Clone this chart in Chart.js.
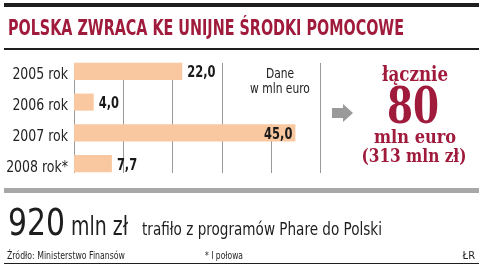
<!DOCTYPE html>
<html>
<head>
<meta charset="utf-8">
<script src="https://cdn.jsdelivr.net/npm/chart.js@4"></script>
<style>
  body { margin: 0; background: #fff; }
  canvas { display: block; }
</style>
</head>
<body>
<canvas id="phareChart" width="484" height="267"></canvas>
<script>
// dane w mln euro
var categories = ["2005 rok", "2006 rok", "2007 rok", "2008 rok*"];
var values = [22.0, 4.0, 45.0, 7.7];
var valueLabels = ["22,0", "4,0", "45,0", "7,7"];
var gridValues = [0, 10, 20, 30, 40, 50];

var RED = "#a01a3c";
var COND = "'DejaVu Sans Condensed', 'Liberation Sans Narrow', sans-serif";
var SLAB = "'DejaVu Serif Condensed', 'DejaVu Serif', serif";

// draws text squeezed horizontally (narrow newspaper font)
function txt(ctx, s, x, y, font, color, align, squeeze) {
    ctx.font = font;
    ctx.fillStyle = color;
    ctx.textAlign = align || "left";
    ctx.textBaseline = "alphabetic";
    var w = ctx.measureText(s).width;
    ctx.fillText(s, x, y, w * (squeeze || 1));
}

// grid lines + "Dane w mln euro" under the bars, category names
var gridPlugin = {
    id: "gridPlugin",
    beforeDatasetsDraw: function (chart) {
        var ctx = chart.ctx;
        var xs = chart.scales.x;
        var ys = chart.scales.y;
        ctx.save();
        ctx.strokeStyle = "#9a9a9a";
        ctx.lineWidth = 1;
        gridValues.forEach(function (v) {
            var px = Math.round(xs.getPixelForValue(v)) + 0.5;
            ctx.beginPath();
            ctx.moveTo(px, 63);
            ctx.lineTo(px, 173);
            ctx.stroke();
        });
        ctx.fillStyle = "#fff";
        ctx.fillRect(246, 58, 66, 66);
        txt(ctx, "Dane", 280, 78, "14px " + COND, "#222", "center", 0.85);
        txt(ctx, "w mln euro", 280, 93, "14px " + COND, "#222", "center", 0.85);

        categories.forEach(function (c, i) {
            var py = ys.getPixelForValue(i);
            txt(ctx, c, 68, py + 8, "16px " + COND, "#222", "right", 0.87);
        });
        ctx.restore();
    }
};

// value labels next to bars
var labelPlugin = {
    id: "labelPlugin",
    afterDatasetsDraw: function (chart) {
        var ctx = chart.ctx;
        var meta = chart.getDatasetMeta(0);
        ctx.save();
        meta.data.forEach(function (bar, i) {
            var font = "bold 15px " + COND;
            if (values[i] > 40) {
                txt(ctx, valueLabels[i], bar.x - 3, bar.y + 6, font, "#1a1a1a", "right", 0.85);
            } else {
                txt(ctx, valueLabels[i], bar.x + 5, bar.y + 6, font, "#1a1a1a", "left", 0.85);
            }
        });
        ctx.restore();
    }
};

// title, rules, summary on the right, footer
var decoPlugin = {
    id: "decoPlugin",
    afterDraw: function (chart) {
        var ctx = chart.ctx;
        ctx.save();

        // top rules
        ctx.fillStyle = "#1e1e1e";
        ctx.fillRect(4, 3, 475, 4);
        ctx.fillRect(4, 48, 475, 2);

        ctx.font = "bold 21px " + COND;
        ctx.fillStyle = RED;
        ctx.textAlign = "left";
        ctx.fillText("POLSKA ZWRACA KE UNIJNE ŚRODKI POMOCOWE", 8, 35, 396);

        // arrow
        ctx.fillStyle = "#9a9a9a";
        ctx.beginPath();
        ctx.moveTo(332, 108);
        ctx.lineTo(343, 108);
        ctx.lineTo(343, 104);
        ctx.lineTo(353, 113);
        ctx.lineTo(343, 122);
        ctx.lineTo(343, 118);
        ctx.lineTo(332, 118);
        ctx.closePath();
        ctx.fill();

        ctx.fillStyle = RED;
        ctx.textAlign = "center";
        ctx.font = "bold 20px " + SLAB;
        ctx.fillText("łącznie", 415, 81, 66);
        ctx.font = "bold 50px " + SLAB;
        ctx.fillText("80", 413, 123, 52);
        ctx.font = "bold 18px " + SLAB;
        ctx.fillText("mln euro", 415, 143, 84);
        ctx.fillText("(313 mln zł)", 414, 162, 105);

        // footer
        ctx.fillStyle = "#a8a8a8";
        ctx.fillRect(4, 188, 475, 5);

        ctx.fillStyle = "#1e1e1e";
        ctx.textAlign = "left";
        ctx.font = "37px " + COND;
        ctx.fillText("920", 8, 235, 57);
        ctx.font = "27px " + COND;
        ctx.fillText("mln zł", 71, 235, 57);
        ctx.font = "18px " + COND;
        ctx.fillText("trafiło z programów Phare do Polski", 142, 235, 240);

        ctx.font = "11px " + COND;
        ctx.fillText("Źródło: Ministerstwo Finansów", 7, 259, 118);
        ctx.fillText("* I połowa", 205, 259, 38);
        ctx.textAlign = "right";
        ctx.fillText("ŁR", 475, 259);

        ctx.fillRect(4, 263, 475, 1);

        ctx.restore();
    }
};

var ctx = document.getElementById("phareChart").getContext("2d");
new Chart(ctx, {
    type: "bar",
    data: {
        labels: categories,
        datasets: [{
            data: values,
            backgroundColor: "#f9c8a0",
            borderWidth: 0,
            categoryPercentage: 1,
            barPercentage: 0.555
        }]
    },
    options: {
        indexAxis: "y",
        responsive: false,
        animation: false,
        devicePixelRatio: 1,
        layout: { padding: { left: 74, right: 164, top: 56, bottom: 88 } },
        plugins: {
            legend: { display: false },
            tooltip: { enabled: false }
        },
        scales: {
            x: {
                display: false,
                min: 0,
                max: 50
            },
            y: {
                display: false
            }
        }
    },
    plugins: [gridPlugin, labelPlugin, decoPlugin]
});
</script>
</body>
</html>
